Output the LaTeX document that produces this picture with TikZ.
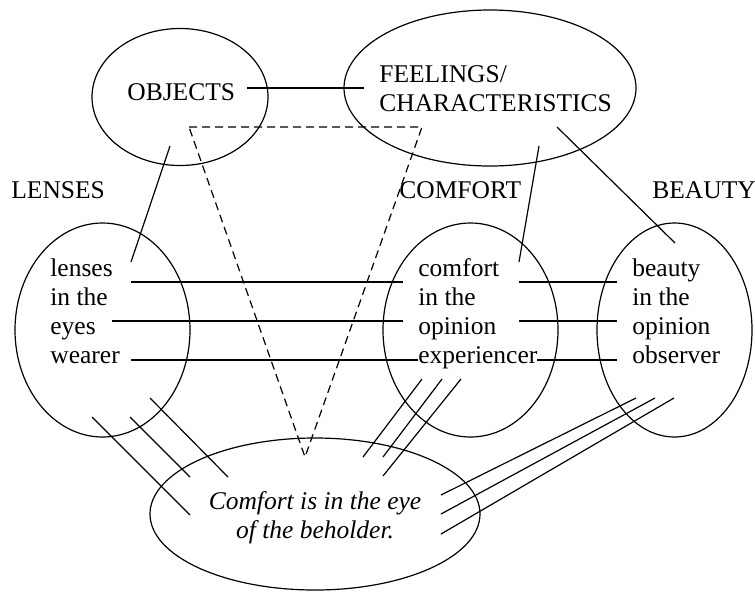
\documentclass[tikz,border=0pt]{standalone}
\usepackage{fontspec}
\setmainfont{Liberation Serif}
\usetikzlibrary{shapes.geometric}
\begin{document}
\begin{tikzpicture}[x=0.5pt,y=-0.5pt,
  every node/.style={font=\fontsize{12.75}{14.5}\selectfont},
  oval/.style={draw, ellipse, inner sep=0pt, line width=0.6pt},
  txt/.style={inner sep=0pt, anchor=base west, align=left},
  link/.style={line width=0.6pt},
  dashlink/.style={line width=0.6pt, dash pattern=on 4pt off 2.5pt}]
\useasboundingbox (0,0) rectangle (755,591);

% ovals
\node[oval, minimum width=88pt, minimum height=68.5pt] (obj) at (180,97) {};
\node[oval, minimum width=146pt, minimum height=78pt] (feel) at (490,88) {};
\node[oval, minimum width=87.5pt, minimum height=107pt] (lens) at (102.5,330) {};
\node[oval, minimum width=87.5pt, minimum height=107pt] (comf) at (470.5,330) {};
\node[oval, minimum width=77.5pt, minimum height=107pt] (beau) at (674.5,330) {};
\node[oval, minimum width=165pt, minimum height=76pt] (eye) at (315,514) {};

% texts (multi-line nodes sit on the baseline of their last line)
\node[txt] (tobj) at (127,100) {OBJECTS};
\node[txt] (tfeel) at (379,111) {FEELINGS/\\CHARACTERISTICS};
\node[txt] (hlens) at (11,198) {LENSES};
\node[txt] (hcomf) at (399,198) {COMFORT};
\node[txt] (hbeau) at (652,198) {BEAUTY};
\node[txt] (tlens) at (50,363) {lenses\\in the\\eyes\\wearer};
\node[txt] (tcomf) at (418,363) {comfort\\in the\\opinion\\experiencer};
\node[txt] (tbeau) at (632,363) {beauty\\in the\\opinion\\observer};
\node[inner sep=0pt, anchor=base, align=center] (teye) at (315,538)
  {\itshape Comfort is in the eye\\\itshape of the beholder.};

% connector end points
\coordinate (o1) at (247,88);   \coordinate (f1) at (364,88);
\coordinate (o2) at (170,146);  \coordinate (l1) at (131,262);
\coordinate (f2) at (539,146);  \coordinate (c1) at (519,262);
\coordinate (f3) at (557,127);  \coordinate (b1) at (675,243);
\coordinate (d1) at (189,127);  \coordinate (d2) at (422,127);
\coordinate (d3) at (305,457);

% objects -- feelings and the links down to the three ovals
\draw[link] (o1) -- (f1);
\draw[link] (o2) -- (l1);
\draw[link] (f2) -- (c1);
\draw[link] (f3) -- (b1);
\draw[dashlink] (d1) -- (d2) -- (d3) -- cycle;

% horizontal rows
\coordinate (r1a) at (131,282); \coordinate (r1b) at (403,282);
\coordinate (r1c) at (519,282); \coordinate (r1d) at (617,282);
\coordinate (r2a) at (112,321); \coordinate (r2b) at (403,321);
\coordinate (r2c) at (519,321); \coordinate (r2d) at (617,321);
\coordinate (r3a) at (131,360); \coordinate (r3b) at (418,360);
\coordinate (r3c) at (537,360); \coordinate (r3d) at (617,360);
\draw[link] (r1a) -- (r1b);  \draw[link] (r1c) -- (r1d);
\draw[link] (r2a) -- (r2b);  \draw[link] (r2c) -- (r2d);
\draw[link] (r3a) -- (r3b);  \draw[link] (r3c) -- (r3d);

% triple strokes towards the bottom oval
\coordinate (la1) at (92,417);  \coordinate (lb1) at (190,515);
\coordinate (la2) at (130,417); \coordinate (lb2) at (190,477);
\coordinate (la3) at (150,398); \coordinate (lb3) at (228,477);
\draw[link] (la1) -- (lb1);
\draw[link] (la2) -- (lb2);
\draw[link] (la3) -- (lb3);

\coordinate (ca1) at (422,379); \coordinate (cb1) at (363,457);
\coordinate (ca2) at (442,379); \coordinate (cb2) at (383,457);
\coordinate (ca3) at (461,379); \coordinate (cb3) at (383,476);
\draw[link] (ca1) -- (cb1);
\draw[link] (ca2) -- (cb2);
\draw[link] (ca3) -- (cb3);

\coordinate (ba1) at (636,398); \coordinate (bb1) at (441,495);
\coordinate (ba2) at (655,398); \coordinate (bb2) at (441,514);
\coordinate (ba3) at (674,398); \coordinate (bb3) at (441,534);
\draw[link] (ba1) -- (bb1);
\draw[link] (ba2) -- (bb2);
\draw[link] (ba3) -- (bb3);
\end{tikzpicture}
\end{document}
